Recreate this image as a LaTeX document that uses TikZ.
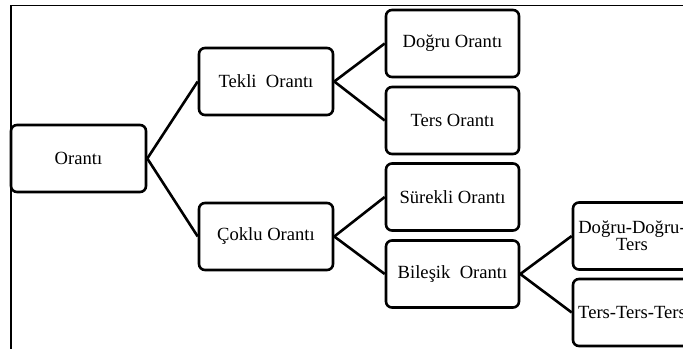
\documentclass[tikz,border=0pt]{standalone}
\usepackage{fontspec}
\setmainfont{Liberation Serif}
\begin{document}
\begin{tikzpicture}[x=1pt,y=1pt,
  box/.style={draw, line width=2.6pt, rounded corners=6pt, minimum width=134pt, minimum height=67pt, inner sep=0pt, align=center, font=\fontsize{18.6}{17}\selectfont},
  link/.style={line width=2.6pt},
  frame/.style={line width=1.3pt}]
\useasboundingbox (0,0) rectangle (683,349);
\clip (0,0) rectangle (683,349);
\fill[white] (0,0) rectangle (683,349);
\coordinate (tl) at (11,343.5);
\coordinate (tr) at (683,343.5);
\coordinate (bl) at (11,0);
\draw[frame] (tr) -- (tl) -- (bl);
\node[box, minimum width=135pt] (or) at (78.5,190.5) {Orantı};
\node[box] (tek) at (266,267.5) {Tekli\ \ Orantı};
\node[box] (cok) at (266,112.5) {Çoklu Orantı};
\node[box, minimum width=133pt] (dog) at (452.5,305.5) {Doğru Orantı};
\node[box, minimum width=133pt] (ter) at (452.5,228.5) {Ters Orantı};
\node[box, minimum width=133pt] (sur) at (452.5,152) {Sürekli Orantı};
\node[box, minimum width=133pt] (bil) at (452.5,75) {Bileşik\ \ Orantı};
\node[box, minimum width=118pt] (ddt) at (632,113) {Doğru-Doğru-\\Ters};
\node[box, minimum width=118pt] (ttt) at (632,36.5) {Ters-Ters-Ters};
\draw[link] (or.east) -- (tek.west);
\draw[link] (or.east) -- (cok.west);
\draw[link] (tek.east) -- (dog.west);
\draw[link] (tek.east) -- (ter.west);
\draw[link] (cok.east) -- (sur.west);
\draw[link] (cok.east) -- (bil.west);
\draw[link] (bil.east) -- (ddt.west);
\draw[link] (bil.east) -- (ttt.west);
\end{tikzpicture}
\end{document}
